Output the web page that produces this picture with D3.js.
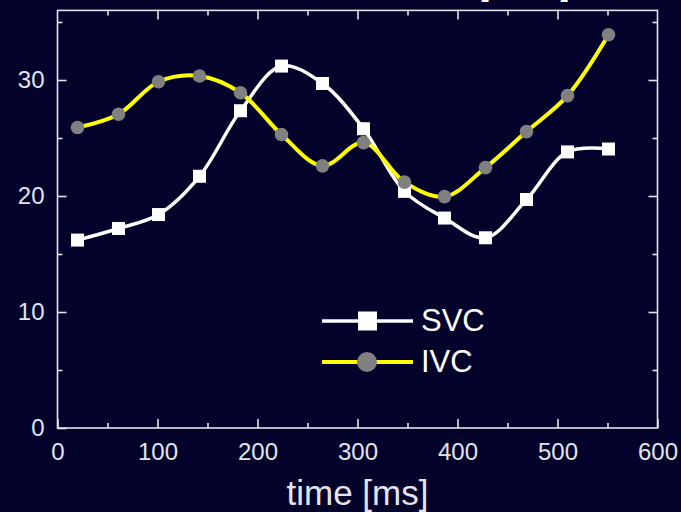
<!DOCTYPE html>
<html>
<head>
<meta charset="utf-8">
<script src="https://cdn.jsdelivr.net/npm/d3@7"></script>
<style>
  html, body { margin: 0; padding: 0; background: #03022b; }
  svg { display: block; font-family: "Liberation Sans", Arial, sans-serif; }
</style>
</head>
<body>
<div id="output"></div>
<script>
(function () {

"use strict";

// values
var times = [ 20, 61, 101, 142, 183, 224, 265, 306, 347, 387, 428, 469, 510, 551 ]
var svc = [ 16.2, 17.2, 18.4, 21.7, 27.35, 31.2, 29.7, 25.8, 20.4, 18.1, 16.4, 19.7, 23.8, 24.05 ]
var ivc = [ 25.9, 27.05, 29.85, 30.35, 28.9, 25.3, 22.6, 24.6, 21.2, 19.95, 22.45, 25.55, 28.65, 33.9 ]
var xTicks = [ 0, 100, 200, 300, 400, 500, 600 ]
var yTicks = [ 0, 10, 20, 30 ]

var width = 681
  , height = 512
  , fg = "#e4e4ee"

var svg = d3.select("#output").append("svg").attr("width", width).attr("height", height)

svg.append("rect").attr("width", width).attr("height", height).attr("fill", "#03022b")

var x = d3.scaleLinear().domain([0, 600]).range([57.5, 657.5])
  , y = d3.scaleLinear().domain([0, 36]).range([428, 10.4])

// title, almost all of it above the top edge (only the bracket feet show)
svg.append("text")
  .attr("x", 570).attr("y", -5)
  .attr("text-anchor", "end")
  .attr("fill", "#fff")
  .style("font-size", "34px")
  .text("Flow [cm/s]")

// frame
svg.append("rect")
  .attr("x", x(0)).attr("y", y(36))
  .attr("width", x(600) - x(0)).attr("height", y(0) - y(36))
  .attr("fill", "none").attr("stroke", fg).attr("stroke-width", 1.6)

function styleAxis(g) {
  g.select(".domain").remove()
  g.selectAll("line").attr("stroke", fg).attr("stroke-width", 1.6)
  g.selectAll("text").attr("fill", fg).style("font-size", "24px")
}

// major ticks with labels
svg.append("g").attr("transform", "translate(0," + y(0) + ")")
  .call(d3.axisBottom(x).tickValues(xTicks).tickSize(-9).tickPadding(15))
  .call(styleAxis)
svg.append("g").attr("transform", "translate(" + x(0) + ",0)")
  .call(d3.axisLeft(y).tickValues(yTicks).tickSize(-9).tickPadding(13))
  .call(styleAxis)

// minor ticks and mirrored ticks on top / right
var xMinor = d3.range(50, 600, 100)
  , yMinor = [ 5, 15, 25, 35 ]

svg.append("g").attr("transform", "translate(0," + y(0) + ")")
  .call(d3.axisBottom(x).tickValues(xMinor).tickSize(-5).tickFormat(""))
  .call(styleAxis)
svg.append("g").attr("transform", "translate(" + x(0) + ",0)")
  .call(d3.axisLeft(y).tickValues(yMinor).tickSize(-5).tickFormat(""))
  .call(styleAxis)
svg.append("g").attr("transform", "translate(0," + y(36) + ")")
  .call(d3.axisTop(x).tickValues(xTicks.slice(1, -1)).tickSize(-9).tickFormat(""))
  .call(styleAxis)
svg.append("g").attr("transform", "translate(0," + y(36) + ")")
  .call(d3.axisTop(x).tickValues(xMinor).tickSize(-5).tickFormat(""))
  .call(styleAxis)
svg.append("g").attr("transform", "translate(" + x(600) + ",0)")
  .call(d3.axisRight(y).tickValues(yTicks.slice(1)).tickSize(-9).tickFormat(""))
  .call(styleAxis)
svg.append("g").attr("transform", "translate(" + x(600) + ",0)")
  .call(d3.axisRight(y).tickValues(yMinor).tickSize(-5).tickFormat(""))
  .call(styleAxis)

// x axis title
svg.append("text")
  .attr("x", x(300)).attr("y", 505)
  .attr("text-anchor", "middle")
  .attr("fill", fg)
  .style("font-size", "35px")
  .text("time [ms]")

// curves
var line = d3.line()
  .x(function (d) { return x(d[0]) })
  .y(function (d) { return y(d[1]) })
  .curve(d3.curveCatmullRom.alpha(0.5))

var svcPts = times.map(function (t, i) { return [ t, svc[i] ] })
  , ivcPts = times.map(function (t, i) { return [ t, ivc[i] ] })

svg.append("path").datum(svcPts).attr("d", line)
  .attr("fill", "none").attr("stroke", "#fff").attr("stroke-width", 3.5)
svg.append("path").datum(ivcPts).attr("d", line)
  .attr("fill", "none").attr("stroke", "#ffff00").attr("stroke-width", 4)

svg.append("g").selectAll("rect").data(svcPts).enter().append("rect")
  .attr("x", function (d) { return x(d[0]) - 6.5 })
  .attr("y", function (d) { return y(d[1]) - 6.5 })
  .attr("width", 13).attr("height", 13)
  .attr("fill", "#fff")

svg.append("g").selectAll("circle").data(ivcPts).enter().append("circle")
  .attr("cx", function (d) { return x(d[0]) })
  .attr("cy", function (d) { return y(d[1]) })
  .attr("r", 6.8)
  .attr("fill", "#808080")

// legend
var legend = svg.append("g")

legend.append("line").attr("x1", 322).attr("x2", 413).attr("y1", 321).attr("y2", 321)
  .attr("stroke", "#fff").attr("stroke-width", 3.5)
legend.append("rect").attr("x", 358).attr("y", 311.5).attr("width", 19).attr("height", 19)
  .attr("fill", "#fff")
legend.append("text").attr("x", 421).attr("y", 331)
  .attr("fill", "#fff").style("font-size", "31px").text("SVC")

legend.append("line").attr("x1", 322).attr("x2", 413).attr("y1", 362).attr("y2", 362)
  .attr("stroke", "#ffff00").attr("stroke-width", 4)
legend.append("circle").attr("cx", 367).attr("cy", 362).attr("r", 10)
  .attr("fill", "#808080")
legend.append("text").attr("x", 421).attr("y", 372)
  .attr("fill", "#fff").style("font-size", "31px").text("IVC")

}())
</script>
</body>
</html>
